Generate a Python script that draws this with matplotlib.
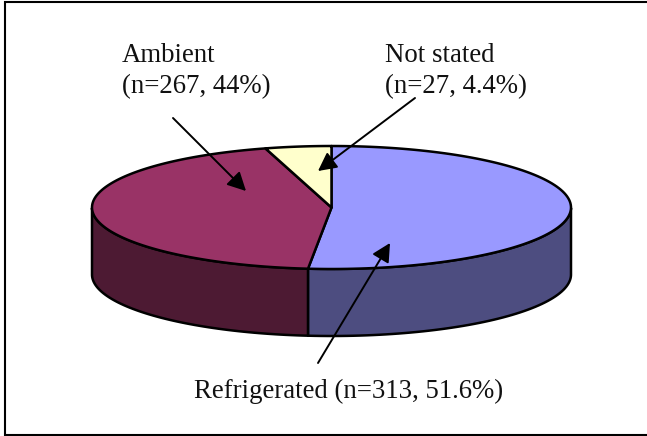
import numpy as np
import matplotlib
matplotlib.use("Agg")
import matplotlib.pyplot as plt
from matplotlib.patches import Polygon, Rectangle

categories = ["Refrigerated", "Ambient", "Not stated"]
counts = [313, 267, 27]
percents = ["51.6%", "44%", "4.4%"]
top_colours = ["#9999FF", "#993366", "#FFFFCC"]
side_colours = ["#4D4D80", "#4D1A33", "#80805F"]

# pie geometry, in picture pixels
cx, cy = 331.5, 207.5
rx, ry = 239.5, 61.5
depth = 67

plt.rcParams['font.family'] = ['Liberation Serif', 'DejaVu Serif']

fig = plt.figure(figsize=(6.47, 4.36), dpi=100)
ax = fig.add_axes([0, 0, 1, 1])
ax.set_xlim(0, 647)
ax.set_ylim(436, 0)
ax.axis("off")

ax.add_patch(Rectangle((5, 2), 645, 433, fc="white", ec="black", lw=1.5))


def rim(a, b):
    t = np.linspace(a, b, 120)
    return cx + rx * np.cos(t), cy - ry * np.sin(t)


fracs = np.array(counts) / sum(counts)
start = np.pi / 2
for i in range(len(counts)):
    end = start - 2 * np.pi * fracs[i]
    x, y = rim(start, end)

    # the wall only shows on the front half of the rim
    front = np.sin(np.linspace(start, end, 120)) <= 0
    if front.any():
        fx, fy = x[front], y[front]
        wall = np.column_stack([np.r_[fx, fx[::-1]], np.r_[fy, fy[::-1] + depth]])
        ax.add_patch(Polygon(wall, fc=side_colours[i], ec="black", lw=1.8, joinstyle="round", zorder=2))

    top = np.column_stack([np.r_[cx, x], np.r_[cy, y]])
    ax.add_patch(Polygon(top, fc=top_colours[i], ec="black", lw=1.8, joinstyle="round", zorder=3))
    start = end

text_size = 19.3
ax.text(122, 62, categories[1], fontsize=text_size, color="#111111", va="baseline", zorder=5)
ax.text(122, 93, "(n=%d, %s)" % (counts[1], percents[1]), fontsize=text_size, color="#111111", va="baseline", zorder=5)
ax.text(385, 62, categories[2], fontsize=text_size, color="#111111", va="baseline", zorder=5)
ax.text(385, 93, "(n=%d, %s)" % (counts[2], percents[2]), fontsize=text_size, color="#111111", va="baseline", zorder=5)
ax.text(194, 398, "%s (n=%d, %s)" % (categories[0], counts[0], percents[0]), fontsize=text_size, color="#111111", va="baseline", zorder=5)

arrows = [((173, 118), (246, 191)), ((415, 98), (318, 171)), ((318, 363), (390, 243))]
for tail, head in arrows:
    ax.annotate("", xy=head, xytext=tail, zorder=6,
                arrowprops=dict(arrowstyle="-|>,head_length=0.7,head_width=0.36", color="black",
                                lw=1.4, shrinkA=0, shrinkB=0, mutation_scale=16))

fig.savefig("out.png", dpi=100)
